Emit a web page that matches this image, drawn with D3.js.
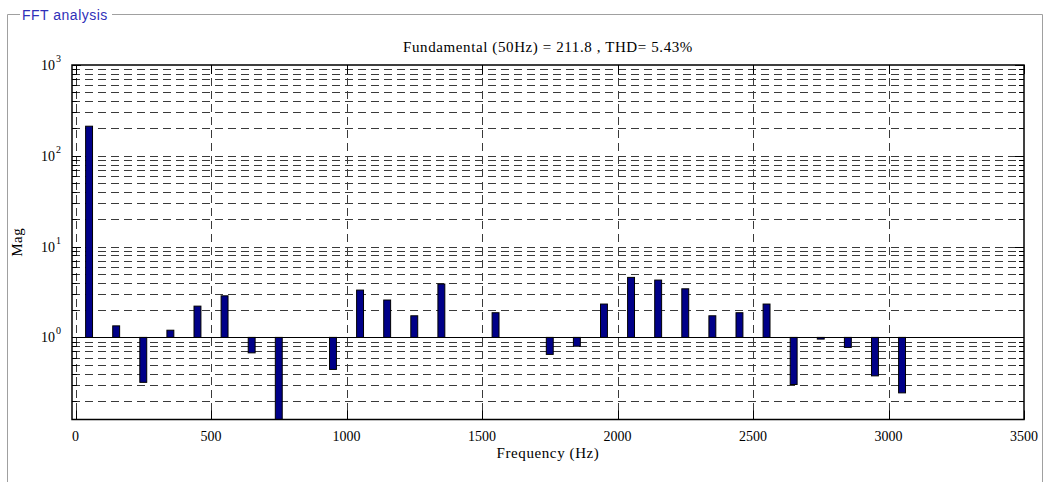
<!DOCTYPE html>
<html>
<head>
<meta charset="utf-8">
<script src="https://cdn.jsdelivr.net/npm/d3@7"></script>
<style>
  html, body { margin: 0; padding: 0; background: #fff; }
  svg { display: block; }
</style>
</head>
<body>
<svg id="chart" width="1046" height="482"></svg>
<script>
// ---- data ----
const panelTitle = "FFT analysis";
const chartTitle = "Fundamental (50Hz) = 211.8 , THD= 5.43%";
const xLabel = "Frequency (Hz)";
const yLabel = "Mag";
const harmonicHz = [50, 150, 250, 350, 450, 550, 650, 750, 850, 950, 1050, 1150, 1250, 1350, 1450,
                    1550, 1650, 1750, 1850, 1950, 2050, 2150, 2250, 2350, 2450, 2550, 2650, 2750,
                    2850, 2950, 3050];
const magnitude = [211.8, 1.34, 0.32, 1.20, 2.21, 2.87, 0.676, 0.05, 1.0, 0.444, 3.32, 2.58, 1.73, 3.87, 1.0,
                   1.87, 1.0, 0.65, 0.80, 2.33, 4.58, 4.28, 3.43, 1.73, 1.87, 2.33, 0.303, 0.958,
                   0.776, 0.377, 0.245];
const xTicks = [0, 500, 1000, 1500, 2000, 2500, 3000, 3500];
const yDecades = [1, 10, 100, 1000];
const yExponents = ["0", "1", "2", "3"];

// ---- layout ----
const L = 72, R = 1024, T = 65, B = 419.5;
const svg = d3.select("#chart");
const serif = "'Liberation Serif', 'Times New Roman', serif";

const x = d3.scaleLinear().domain([-13, 3500]).range([L, R]);
const y = d3.scaleLog().domain([0.1247, 1000]).range([B, T]);
const barW = x(25.5) - x(0);

// panel frame
svg.append("path")
  .attr("d", `M20,14.5 H7.5 V490 M112,14.5 H1042.5 V490`)
  .attr("fill", "none").attr("stroke", "#a0a0a0").attr("stroke-width", 1);
svg.append("text").attr("x", 22).attr("y", 19.5)
  .attr("font-family", "'Liberation Sans', Arial, sans-serif").attr("font-size", 14)
  .attr("letter-spacing", 0.5)
  .attr("fill", "#2f2fb8").text(panelTitle);

// minor/major y values
const yVals = [];
[0.1, 1, 10, 100].forEach(d => {
  for (let k = 1; k <= 9; k++) {
    const v = +(k * d).toPrecision(3);
    if (v >= 0.1247 && v <= 1000) yVals.push(v);
  }
});
yVals.push(1000);

const g = svg.append("g");
// grid lines
g.selectAll("line.hgrid").data(yVals.filter(v => v !== 1 && v !== 1000)).join("line")
  .attr("class", "hgrid")
  .attr("x1", L).attr("x2", R).attr("y1", d => Math.round(y(d)) + 0.5).attr("y2", d => Math.round(y(d)) + 0.5)
  .attr("stroke", "#3a3a3a").attr("stroke-width", 1).attr("stroke-dasharray", "8,5");
g.selectAll("line.vgrid").data(xTicks.filter(v => v < 3500)).join("line")
  .attr("class", "vgrid")
  .attr("x1", d => Math.round(x(d)) + 0.5).attr("x2", d => Math.round(x(d)) + 0.5)
  .attr("y1", T).attr("y2", B)
  .attr("stroke", "#3a3a3a").attr("stroke-width", 1).attr("stroke-dasharray", "8,5");

// bars (from baseline 1)
svg.append("clipPath").attr("id", "clip").append("rect")
  .attr("x", L).attr("y", T).attr("width", R - L).attr("height", B - T);
const bars = svg.append("g").attr("clip-path", "url(#clip)");
bars.selectAll("rect").data(harmonicHz.map((f, i) => ({ f, v: magnitude[i] })).filter(d => d.v !== 1)).join("rect")
  .attr("x", d => x(d.f) - barW / 2)
  .attr("width", barW)
  .attr("y", d => Math.min(y(d.v), y(1)))
  .attr("height", d => Math.abs(y(d.v) - y(1)))
  .attr("fill", "#000088").attr("stroke", "#000").attr("stroke-width", 1);

// baseline at 1
svg.append("line").attr("x1", L).attr("x2", R).attr("y1", Math.round(y(1)) + 0.5).attr("y2", Math.round(y(1)) + 0.5)
  .attr("stroke", "#000").attr("stroke-width", 1);

// ticks
const tk = svg.append("g").attr("stroke", "#000").attr("stroke-width", 1);
yVals.forEach(v => {
  const major = yDecades.includes(v);
  const len = major ? 9 : 5;
  const yy = Math.round(y(v)) + 0.5;
  tk.append("line").attr("x1", L).attr("x2", L + len).attr("y1", yy).attr("y2", yy);
  tk.append("line").attr("x1", R - len).attr("x2", R).attr("y1", yy).attr("y2", yy);
});
xTicks.forEach(v => {
  const xx = Math.round(x(v)) + 0.5;
  tk.append("line").attr("x1", xx).attr("x2", xx).attr("y1", B).attr("y2", B - 9);
  tk.append("line").attr("x1", xx).attr("x2", xx).attr("y1", T).attr("y2", T + 9);
});

// axis box
svg.append("rect").attr("x", L).attr("y", T).attr("width", R - L).attr("height", B - T)
  .attr("fill", "none").attr("stroke", "#000").attr("stroke-width", 1.5);

// x tick labels
svg.append("g").selectAll("text").data(xTicks).join("text")
  .attr("x", d => x(d)).attr("y", 441)
  .attr("text-anchor", "middle").attr("font-family", serif).attr("font-size", 14)
  .text(d => d);

// y tick labels
yDecades.forEach((v, i) => {
  const t = svg.append("text").attr("x", 61).attr("y", y(v) + 5)
    .attr("text-anchor", "end").attr("font-family", serif).attr("font-size", 14);
  t.append("tspan").text("10");
  t.append("tspan").attr("dy", -8).attr("dx", 1).attr("font-size", 10).text(yExponents[i]);
});

// titles
svg.append("text").attr("x", (L + R) / 2).attr("y", 52)
  .attr("text-anchor", "middle").attr("font-family", serif).attr("font-size", 15)
  .attr("letter-spacing", 0.6).text(chartTitle);
svg.append("text").attr("x", (L + R) / 2).attr("y", 458)
  .attr("text-anchor", "middle").attr("font-family", serif).attr("font-size", 15)
  .attr("letter-spacing", 0.6).text(xLabel);
svg.append("text").attr("transform", `translate(22,${(T + B) / 2}) rotate(-90)`)
  .attr("text-anchor", "middle").attr("font-family", serif).attr("font-size", 15)
  .attr("letter-spacing", 0.5).text(yLabel);
</script>
</body>
</html>
